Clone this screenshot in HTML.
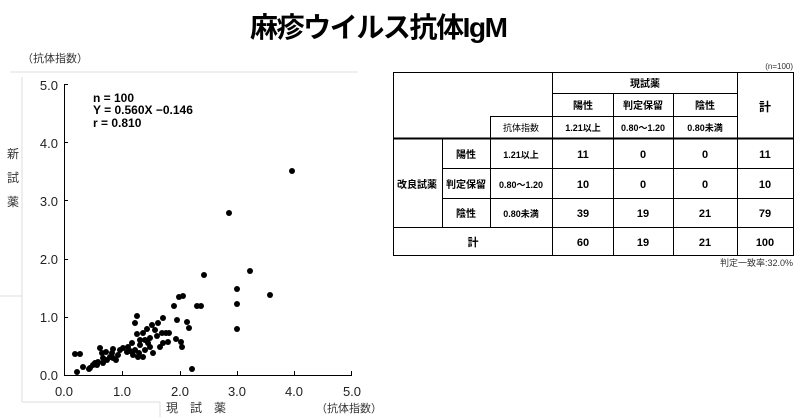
<!DOCTYPE html>
<html><head><meta charset="utf-8"><style>
body{margin:0;background:#fff;}
svg{display:block}
text{font-family:"Liberation Sans","Noto Sans CJK JP",sans-serif;}
</style></head><body>
<svg width="800" height="417" xmlns="http://www.w3.org/2000/svg">
<text x="250" y="37" font-size="28" font-weight="bold" font-family="Liberation Serif,Noto Serif CJK SC,serif" textLength="258">麻疹ウイルス抗体IgM</text>
<g stroke="#ddd" fill="none" stroke-width="1">
<line x1="10" y1="72" x2="358" y2="72"/><line x1="22" y1="77" x2="22" y2="296"/>
<line x1="0" y1="296" x2="22" y2="296"/><line x1="22" y1="296" x2="22" y2="402"/>
<line x1="22" y1="402" x2="160" y2="402"/><line x1="160" y1="402" x2="160" y2="417"/>
</g>
<text x="22" y="62" font-size="11" fill="#333">（抗体指数）</text>
<g fill="#222" font-size="13" font-family="Liberation Mono,monospace">
<text x="58" y="380" text-anchor="end">0.0</text>
<text x="58" y="322" text-anchor="end">1.0</text>
<text x="58" y="264" text-anchor="end">2.0</text>
<text x="58" y="206" text-anchor="end">3.0</text>
<text x="58" y="148" text-anchor="end">4.0</text>
<text x="58" y="90" text-anchor="end">5.0</text>
<text x="64" y="396" text-anchor="middle">0.0</text>
<text x="122" y="396" text-anchor="middle">1.0</text>
<text x="180" y="396" text-anchor="middle">2.0</text>
<text x="237" y="396" text-anchor="middle">3.0</text>
<text x="294" y="396" text-anchor="middle">4.0</text>
<text x="352" y="396" text-anchor="middle">5.0</text>
</g>
<g font-size="12" fill="#333">
<text x="7" y="158">新</text><text x="7" y="182">試</text><text x="7" y="206">薬</text>
<text x="166" y="412">現　試　薬</text>
<text x="316" y="412" font-size="11">（抗体指数）</text>
</g>
<g stroke="#000" stroke-width="1">
<line x1="64.5" y1="84" x2="64.5" y2="375"/><line x1="64" y1="375.5" x2="352" y2="375.5"/>
<line x1="64" y1="84.5" x2="68" y2="84.5"/><line x1="64" y1="142.5" x2="68" y2="142.5"/>
<line x1="64" y1="200.5" x2="68" y2="200.5"/><line x1="64" y1="259.5" x2="68" y2="259.5"/>
<line x1="64" y1="317.5" x2="68" y2="317.5"/>
<line x1="122.5" y1="371" x2="122.5" y2="375"/><line x1="180.5" y1="371" x2="180.5" y2="375"/>
<line x1="237.5" y1="371" x2="237.5" y2="375"/><line x1="294.5" y1="371" x2="294.5" y2="375"/>
<line x1="351.5" y1="371" x2="351.5" y2="375"/>
</g>
<g font-size="12" font-weight="bold" fill="#000">
<text x="93" y="102">n = 100</text>
<text x="93" y="114">Y = 0.560X −0.146</text>
<text x="93" y="127">r = 0.810</text>
</g>
<g fill="#000">
<circle cx="292" cy="171" r="3"/><circle cx="229" cy="213" r="3"/><circle cx="250" cy="271" r="3"/>
<circle cx="204" cy="275" r="3"/><circle cx="237" cy="289" r="3"/><circle cx="270" cy="295" r="3"/>
<circle cx="237" cy="304" r="3"/><circle cx="237" cy="329" r="3"/><circle cx="192" cy="369" r="3"/>
<circle cx="183" cy="296" r="3"/><circle cx="179" cy="297" r="3"/><circle cx="174" cy="306" r="3"/>
<circle cx="197" cy="306" r="3"/><circle cx="201" cy="306" r="3"/><circle cx="137" cy="316" r="3"/>
<circle cx="135" cy="323" r="3"/><circle cx="152" cy="325" r="3"/><circle cx="158" cy="323" r="3"/>
<circle cx="163" cy="318" r="3"/><circle cx="177" cy="320" r="3"/><circle cx="187" cy="322" r="3"/>
<circle cx="189" cy="328" r="3"/><circle cx="137" cy="334" r="3"/><circle cx="143" cy="333" r="3"/>
<circle cx="145" cy="340" r="3"/><circle cx="140" cy="340" r="3"/><circle cx="148" cy="343" r="3"/>
<circle cx="150" cy="338" r="3"/><circle cx="157" cy="336" r="3"/><circle cx="162" cy="333" r="3"/>
<circle cx="166" cy="333" r="3"/><circle cx="169" cy="333" r="3"/><circle cx="163" cy="343" r="3"/>
<circle cx="168" cy="342" r="3"/><circle cx="160" cy="347" r="3"/><circle cx="176" cy="339" r="3"/>
<circle cx="181" cy="342" r="3"/><circle cx="182" cy="347" r="3"/><circle cx="153" cy="353" r="3"/>
<circle cx="135" cy="350" r="3"/><circle cx="139" cy="353" r="3"/><circle cx="128" cy="347" r="3"/>
<circle cx="130" cy="351" r="3"/><circle cx="133" cy="355" r="3"/><circle cx="127" cy="352" r="3"/>
<circle cx="123" cy="348" r="3"/><circle cx="113" cy="349" r="3"/><circle cx="112" cy="353" r="3"/>
<circle cx="113" cy="358" r="3"/><circle cx="110" cy="357" r="3"/><circle cx="107" cy="360" r="3"/>
<circle cx="100" cy="348" r="3"/><circle cx="102" cy="353" r="3"/><circle cx="103" cy="358" r="3"/>
<circle cx="98" cy="362" r="3"/><circle cx="95" cy="363" r="3"/><circle cx="93" cy="365" r="3"/>
<circle cx="90" cy="368" r="3"/><circle cx="97" cy="365" r="3"/><circle cx="83" cy="367" r="3"/>
<circle cx="77" cy="372" r="3"/><circle cx="75" cy="354" r="3"/><circle cx="80" cy="354" r="3"/>
<circle cx="138" cy="357" r="3"/><circle cx="143" cy="357" r="3"/><circle cx="118" cy="355" r="3"/>
<circle cx="120" cy="350" r="3"/><circle cx="103" cy="363" r="3"/><circle cx="145" cy="350" r="3"/>
<circle cx="150" cy="347" r="3"/><circle cx="140" cy="345" r="3"/><circle cx="132" cy="343" r="3"/>
<circle cx="89" cy="369" r="3"/><circle cx="106" cy="352" r="3"/><circle cx="116" cy="360" r="3"/>
<circle cx="155" cy="330" r="3"/><circle cx="147" cy="329" r="3"/>
</g>
<text x="793" y="69" font-size="8" text-anchor="end" fill="#333">(n=100)</text>
<g stroke="#000" stroke-width="1" fill="none">
<rect x="393.5" y="72.5" width="400" height="183"/>
<line x1="552.5" y1="72" x2="552.5" y2="255"/>
<line x1="737.5" y1="72" x2="737.5" y2="255"/>
<line x1="613.5" y1="93" x2="613.5" y2="255"/>
<line x1="673.5" y1="93" x2="673.5" y2="255"/>
<line x1="552" y1="93.5" x2="737" y2="93.5"/>
<line x1="490" y1="116.5" x2="737" y2="116.5"/>
<line x1="490.5" y1="116" x2="490.5" y2="227"/>
<line x1="442.5" y1="138" x2="442.5" y2="227"/>
<line x1="442" y1="168.5" x2="793" y2="168.5"/>
<line x1="442" y1="198.5" x2="793" y2="198.5"/>
<line x1="393" y1="227.5" x2="793" y2="227.5"/>
</g>
<line x1="393" y1="138.5" x2="793" y2="138.5" stroke="#000" stroke-width="2"/>
<g font-size="10" font-weight="bold" text-anchor="middle" fill="#000">
<text x="645" y="87">現試薬</text>
<text x="583" y="109">陽性</text><text x="643" y="109">判定保留</text><text x="705" y="109">陰性</text>
<text x="765" y="111" font-size="12">計</text>
<text x="583" y="131" font-size="9">1.21以上</text><text x="643" y="131" font-size="9">0.80〜1.20</text><text x="705" y="131" font-size="9">0.80未満</text>
<text x="521" y="131" font-size="9" font-weight="normal">抗体指数</text>
<text x="417" y="188">改良試薬</text>
<text x="466" y="158">陽性</text><text x="466" y="188">判定保留</text><text x="466" y="217">陰性</text>
<text x="521" y="158" font-size="9">1.21以上</text><text x="521" y="188" font-size="9">0.80〜1.20</text><text x="521" y="217" font-size="9">0.80未満</text>
<g font-size="11">
<text x="583" y="158">11</text><text x="643" y="158">0</text><text x="705" y="158">0</text><text x="765" y="158">11</text>
<text x="583" y="188">10</text><text x="643" y="188">0</text><text x="705" y="188">0</text><text x="765" y="188">10</text>
<text x="583" y="217">39</text><text x="643" y="217">19</text><text x="705" y="217">21</text><text x="765" y="217">79</text>
<text x="583" y="246">60</text><text x="643" y="246">19</text><text x="705" y="246">21</text><text x="765" y="246">100</text>
<text x="473" y="246">計</text>
</g>
</g>
<text x="793" y="266" font-size="9" text-anchor="end" fill="#333">判定一致率:32.0%</text>
</svg>
</body></html>
